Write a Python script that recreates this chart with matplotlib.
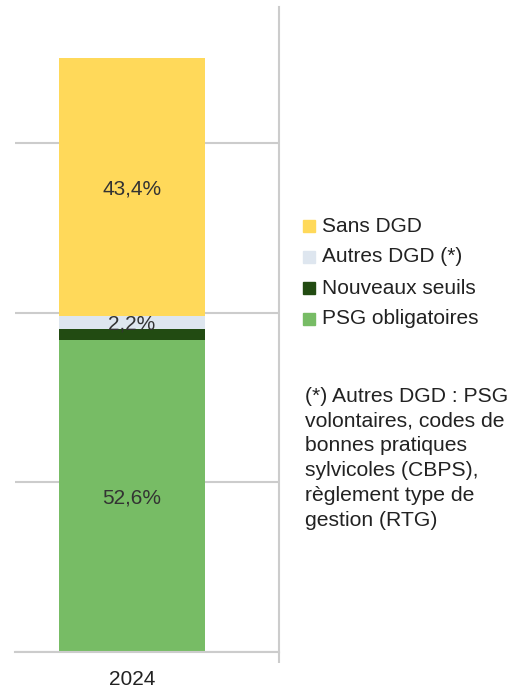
import matplotlib.pyplot as plt
import numpy as np

plt.rcParams["font.family"] = ["Liberation Sans", "DejaVu Sans"]

year = "2024"
series = ["PSG obligatoires", "Nouveaux seuils", "Autres DGD (*)", "Sans DGD"]
shares = [52.6, 1.8, 2.2, 43.4]
labels = ["52,6%", "", "2,2%", "43,4%"]
colors = ["#77bc65", "#224b12", "#dee6ef", "#ffd95a"]
note = ("(*) Autres DGD : PSG\nvolontaires, codes de\nbonnes pratiques\n"
        "sylvicoles (CBPS),\nrèglement type de\ngestion (RTG)")

W, H = 518, 689
fig = plt.figure(figsize=(W / 100, H / 100), dpi=100)
ax = fig.add_axes([15 / W, 1 - 652 / H, (279 - 15) / W, (652 - 7) / H])

grid_color = "#cccccc"
bottom = 0.0
for val, lab, col in zip(shares, labels, colors):
    ax.bar(0, val, width=0.553, bottom=bottom, color=col, linewidth=0, zorder=2)
    if lab:
        ax.text(0, bottom + val / 2, lab, ha="center", va="center_baseline",
                fontsize=15, color="#333333", zorder=3)
    bottom += val

ax.set_xlim(-0.443, 0.557)
ax.set_ylim(0, 108.6)
ax.set_yticks(np.arange(0, 108.6, 100 / 3.5))
ax.yaxis.grid(True, color=grid_color, linewidth=1.5, zorder=1)
ax.tick_params(axis="y", length=0, labelleft=False)
ax.set_xticks([0])
ax.set_xticklabels([year], fontsize=15, color="#222222")
ax.tick_params(axis="x", length=0, pad=13)
ax.set_xticks([0.557], minor=True)
ax.tick_params(axis="x", which="minor", length=8, width=1.5, color=grid_color)
for side in ["left", "top"]:
    ax.spines[side].set_visible(False)
ax.spines["bottom"].set_color(grid_color)
ax.spines["bottom"].set_linewidth(1.5)
ax.spines["right"].set_color(grid_color)
ax.spines["right"].set_linewidth(1.5)

# legend, top entry first
legend_y = [226, 257, 288, 319]
for yy, name, col in zip(legend_y, series[::-1], colors[::-1]):
    fig.patches.append(plt.Rectangle((303 / W, 1 - (yy + 6) / H), 12 / W, 12 / H,
                                     transform=fig.transFigure, color=col, figure=fig))
    fig.text(322 / W, 1 - yy / H, name, ha="left", va="center",
             fontsize=15, color="#222222")

fig.text(305 / W, 1 - 387 / H, note, ha="left", va="top", fontsize=15.2,
         color="#222222", linespacing=1.38)

fig.savefig("out.png", dpi=100, facecolor="white")
